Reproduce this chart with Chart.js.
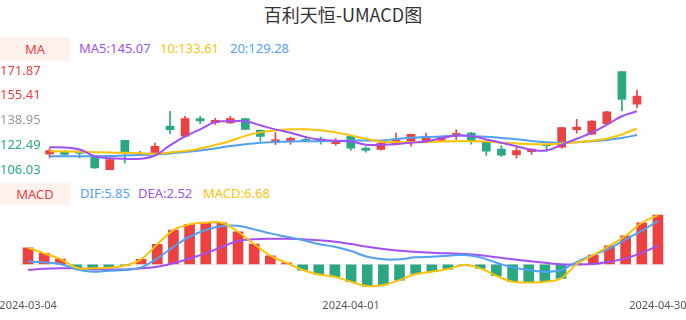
<!DOCTYPE html>
<html>
<head>
<meta charset="utf-8">
<script src="https://cdn.jsdelivr.net/npm/chart.js@4.4.1/dist/chart.umd.min.js"></script>
<style>
body { margin: 0; width: 686px; height: 320px; position: relative; overflow: hidden; background: #fff; font-family: "Noto Sans", sans-serif; }
canvas { position: absolute; left: 0; top: 0; }
.txt { position: absolute; white-space: nowrap; line-height: 1; }
.box { position: absolute; left: 0; width: 70px; background: #fff2ee; color: #f03e3e; font-size: 13px; display: flex; align-items: center; justify-content: center; }
#title { left: 0; width: 686px; text-align: center; top: 5px; font-size: 18px; color: #333; font-family: "Noto Sans CJK SC", sans-serif; }
</style>
</head>
<body>
<div id="title" class="txt">百利天恒-UMACD图</div>
<div class="box" style="top:37px;height:24px">MA</div>
<div id="ma5Txt" class="txt" style="left:79px;top:42px;font-size:13px;color:#a150f5"></div>
<div id="ma10Txt" class="txt" style="left:160px;top:42px;font-size:13px;color:#fcc20a"></div>
<div id="ma20Txt" class="txt" style="left:230px;top:42px;font-size:13px;color:#52a0f2"></div>
<div class="box" style="top:183px;height:22px">MACD</div>
<div id="difTxt" class="txt" style="left:80px;top:187px;font-size:13px;color:#52a0f2"></div>
<div id="deaTxt" class="txt" style="left:138px;top:187px;font-size:13px;color:#a150f5"></div>
<div id="macdTxt" class="txt" style="left:203px;top:187px;font-size:13px;color:#fcc20a"></div>
<canvas id="kChart" width="686" height="320"></canvas>
<canvas id="macdChart" width="686" height="320"></canvas>
<script>
// trading days
var dates = ['2024-03-04','2024-03-05','2024-03-06','2024-03-07','2024-03-08',
    '2024-03-11','2024-03-12','2024-03-13','2024-03-14','2024-03-15',
    '2024-03-18','2024-03-19','2024-03-20','2024-03-21','2024-03-22',
    '2024-03-25','2024-03-26','2024-03-27','2024-03-28','2024-03-29',
    '2024-04-01','2024-04-02','2024-04-03','2024-04-08','2024-04-09',
    '2024-04-10','2024-04-11','2024-04-12','2024-04-15','2024-04-16',
    '2024-04-17','2024-04-18','2024-04-19','2024-04-22','2024-04-23',
    '2024-04-24','2024-04-25','2024-04-26','2024-04-29','2024-04-30'];

var opens  = [116.80,117.87,117.20,114.53,106.30,125.70,116.50,117.20,135.27,128.58,
              140.20,137.54,137.27,140.22,132.39,124.16,125.03,126.40,126.80,123.50,
              128.38,120.55,119.68,123.50,125.23,125.23,125.70,129.05,130.60,124.56,
              119.88,116.13,118.14,123.02,121.22,132.86,129.92,136.87,171.50,149.79];
var highs  = [120.55,119.00,119.00,114.80,113.30,126.00,118.50,123.90,145.11,141.76,
              141.76,140.40,141.76,140.50,132.80,130.85,127.91,128.40,127.90,127.00,
              129.05,121.40,124.20,130.60,130.00,130.60,128.60,132.86,131.05,124.80,
              122.35,121.20,120.00,123.50,134.40,139.75,138.90,145.00,171.87,159.16];
var lows   = [114.12,115.80,114.10,107.00,106.03,110.78,115.60,116.80,130.18,127.91,
              136.87,136.40,137.00,132.80,125.23,122.83,123.03,125.20,123.20,122.60,
              119.01,117.90,119.30,123.20,121.89,124.60,125.50,126.37,123.20,115.66,
              115.00,113.90,116.33,118.50,120.50,130.60,129.50,136.50,145.31,147.31];
var closes = [119.01,116.33,117.00,107.43,112.99,117.47,117.10,121.69,132.86,140.22,
              138.60,139.08,140.22,133.06,128.38,126.17,127.04,125.70,125.20,125.50,
              120.55,119.00,123.90,126.17,129.72,127.04,128.38,130.39,125.23,118.54,
              115.87,119.01,119.88,122.15,134.20,134.60,138.62,144.64,152.93,155.14];

var ma5  = [121.22,121.02,119.68,115.20,113.86,113.46,113.46,115.66,122.35,128.38,
            133.06,137.95,138.41,138.41,135.74,133.06,130.85,127.91,126.17,125.50,
            125.03,122.83,122.83,123.23,124.16,125.03,127.24,128.80,128.58,126.37,
            124.16,121.89,119.48,119.01,122.83,126.84,130.85,136.20,141.76,145.07];
var ma10 = [118.54,118.40,118.20,117.87,117.67,117.47,117.20,116.80,117.67,118.67,
            120.35,122.69,125.37,128.71,131.05,132.39,133.06,133.06,132.39,131.05,
            129.05,126.84,125.03,124.56,124.56,124.56,125.03,125.23,125.23,125.03,
            124.16,123.69,123.23,123.23,123.69,124.56,125.50,126.84,129.72,133.61];
var ma20 = [115.20,115.20,115.20,115.20,115.33,115.66,115.93,116.33,117.00,118.00,
            119.01,120.35,122.02,123.16,124.16,124.63,125.03,125.17,125.23,125.37,
            125.50,125.63,125.70,126.57,127.51,127.91,128.38,129.05,128.71,128.17,
            127.37,126.50,125.37,124.56,124.16,124.43,125.23,126.04,127.37,129.28];

var dif  = [0.41,0.27,0.04,-0.68,-1.00,-0.86,-0.77,-0.41,0.81,2.38,
            3.74,4.65,5.19,5.23,4.74,4.20,3.74,3.29,2.75,2.38,
            1.80,1.03,0.68,0.68,0.95,1.03,1.17,1.26,0.95,0.22,
            -0.41,-0.77,-1.00,-0.77,0.35,1.26,2.17,3.39,4.55,5.85];
var dea  = [-0.73,-0.60,-0.54,-0.54,-0.68,-0.68,-0.68,-0.54,-0.32,0.14,
            0.81,1.49,2.38,3.16,3.39,3.47,3.47,3.39,3.25,3.06,
            2.75,2.38,2.07,1.84,1.71,1.57,1.49,1.40,1.22,0.95,
            0.68,0.45,0.22,0.00,-0.02,0.05,0.35,0.81,1.57,2.52];
var macd = [2.25,1.49,0.72,-0.46,-0.54,-0.46,-0.15,0.68,2.71,4.65,
            5.42,5.64,5.64,4.42,2.75,1.17,0.22,-0.77,-1.36,-1.68,
            -2.36,-2.94,-2.80,-2.13,-1.31,-1.00,-0.64,-0.10,-0.54,-1.54,
            -2.36,-2.44,-2.36,-1.90,0.10,1.26,2.52,3.88,5.64,6.68];

var yTicks = [106.03, 122.49, 138.95, 155.41, 171.87];
var xTickLabels = ['2024-03-04', '2024-04-01', '2024-04-30'];

var upColor = '#eb4141';
var downColor = '#2aa884';
var tickColors = ['#2aa884', '#2aa884', '#9a9a9a', '#eb4141', '#eb4141'];
var font = '"Noto Sans", sans-serif';

function last(arr) { return arr[arr.length - 1].toFixed(2); }
document.getElementById('ma5Txt').textContent = 'MA5:' + last(ma5);
document.getElementById('ma10Txt').textContent = '10:' + last(ma10);
document.getElementById('ma20Txt').textContent = '20:' + last(ma20);
document.getElementById('difTxt').textContent = 'DIF:' + last(dif);
document.getElementById('deaTxt').textContent = 'DEA:' + last(dea);
document.getElementById('macdTxt').textContent = 'MACD:' + last(macd);

var candleColors = closes.map(function(c, i) { return c >= opens[i] ? upColor : downColor; });
var barColors = macd.map(function(v) { return v >= 0 ? upColor : downColor; });

function lineSet(label, data, color, order) {
    return {
        type: 'line', label: label, data: data, borderColor: color, borderWidth: 2,
        pointRadius: 0, tension: 0.4, fill: false, order: order
    };
}

// K chart
new Chart(document.getElementById('kChart').getContext('2d'), {
    type: 'bar',
    data: {
        labels: dates,
        datasets: [{
            label: 'wick',
            data: lows.map(function(l, i) { return [l, highs[i]]; }),
            backgroundColor: candleColors,
            barThickness: 1,
            grouped: false,
            order: 5
        }, {
            label: 'body',
            data: opens.map(function(o, i) { return [o, closes[i]]; }),
            backgroundColor: candleColors,
            barThickness: 8,
            minBarLength: 1,
            grouped: false,
            order: 4
        },
        lineSet('MA20', ma20, '#52a0f2', 3),
        lineSet('MA10', ma10, '#fcc20a', 2),
        lineSet('MA5', ma5, '#a150f5', 1)]
    },
    options: {
        responsive: false,
        animation: false,
        layout: { padding: { left: 0, right: 41.5, top: 71, bottom: 150 } },
        plugins: { legend: { display: false }, tooltip: { enabled: false } },
        scales: {
            x: { display: false },
            y: {
                min: 106.03,
                max: 171.87,
                afterBuildTicks: function(s) { s.ticks = yTicks.map(function(v) { return { value: v }; }); },
                afterFit: function(s) { s.width = 42; },
                grid: { display: false },
                border: { display: false },
                ticks: {
                    padding: 0,
                    crossAlign: 'far',
                    font: { size: 13, family: font },
                    color: function(ctx) { return tickColors[ctx.index]; },
                    callback: function(v) { return v.toFixed(2); }
                }
            }
        }
    }
});

// MACD chart
var xLabelPlugin = {
    id: 'xLabels',
    afterDraw: function(chart) {
        var c = chart.ctx, xs = chart.scales.x;
        c.save();
        c.font = '11px ' + font;
        c.fillStyle = '#555';
        c.textAlign = 'center';
        c.textBaseline = 'middle';
        xTickLabels.forEach(function(lbl) {
            c.fillText(lbl, xs.getPixelForValue(dates.indexOf(lbl)), 306);
        });
        c.restore();
    }
};

new Chart(document.getElementById('macdChart').getContext('2d'), {
    type: 'bar',
    data: {
        labels: dates,
        datasets: [{
            label: 'MACD',
            data: macd,
            backgroundColor: barColors,
            barThickness: 10,
            order: 4
        },
        lineSet('DEA', dea, '#a150f5', 3),
        lineSet('DIF', dif, '#52a0f2', 2),
        lineSet('MACD', macd, '#fcc20a', 1)]
    },
    options: {
        responsive: false,
        animation: false,
        layout: { padding: { left: 20, right: 20, top: 205.3, bottom: 26.1 } },
        plugins: { legend: { display: false }, tooltip: { enabled: false } },
        scales: {
            x: { display: false },
            y: {
                min: -4,
                max: 8,
                afterFit: function(s) { s.width = 0; },
                ticks: { display: false, stepSize: 2 },
                border: { display: false },
                grid: {
                    drawTicks: false,
                    color: function(ctx) { return ctx.tick && ctx.tick.value === 0 ? '#eeeeee' : 'transparent'; }
                }
            }
        }
    },
    plugins: [xLabelPlugin]
});
</script>
</body>
</html>
